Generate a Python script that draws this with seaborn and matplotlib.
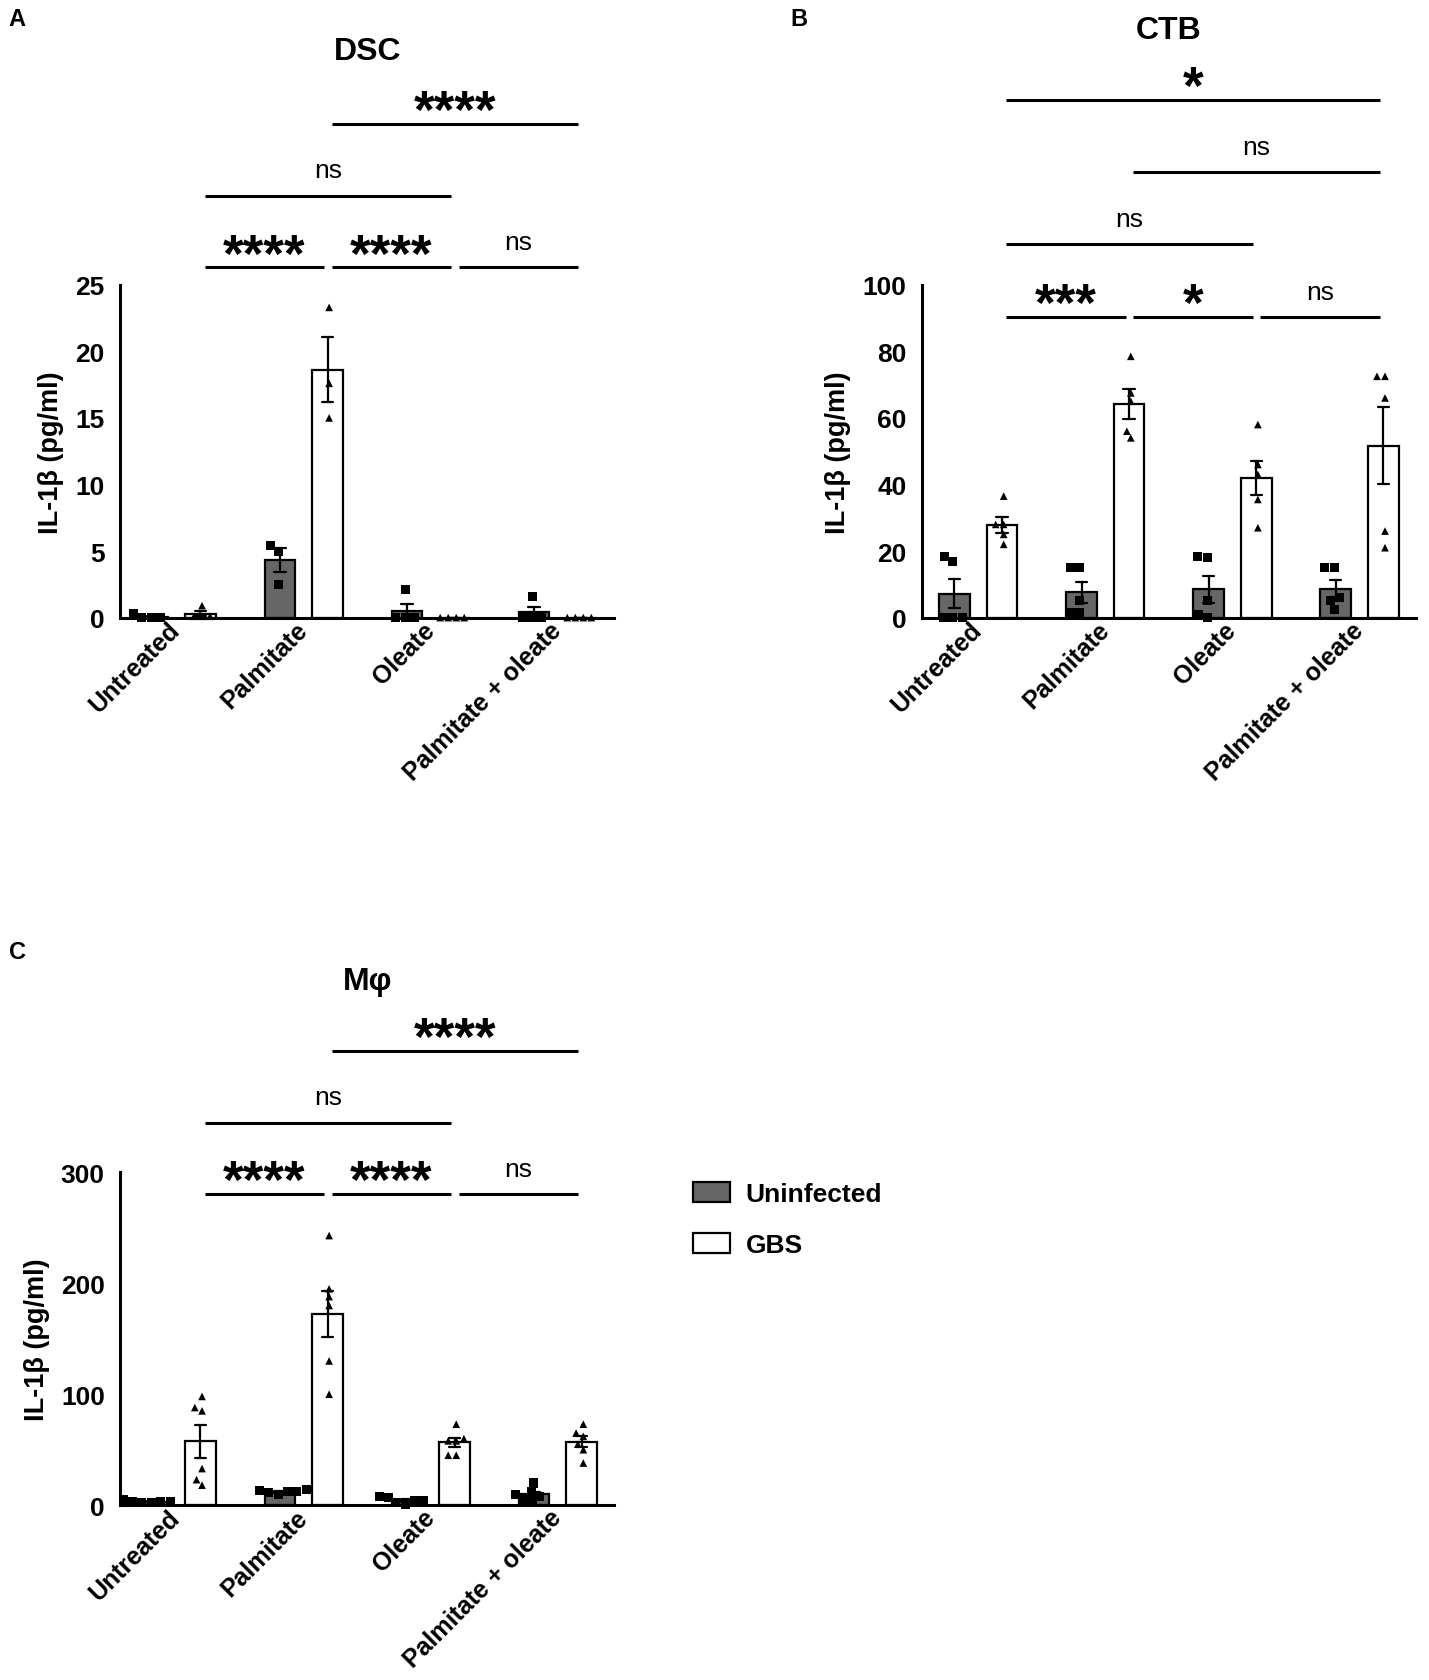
import numpy as np
import pandas as pd
import matplotlib
matplotlib.use("Agg")
import matplotlib.pyplot as plt
import seaborn as sns
from matplotlib.patches import Patch

sns.set_theme(style="white")
plt.rcParams["font.family"] = ["Liberation Sans", "DejaVu Sans"]
plt.rcParams["text.color"] = "black"
plt.rcParams["axes.labelcolor"] = "black"
plt.rcParams["xtick.color"] = "black"
plt.rcParams["ytick.color"] = "black"

# --- data (IL-1b, pg/ml) ---
treatments = ["Untreated", "Palmitate", "Oleate", "Palmitate + oleate"]
infections = ["Uninfected", "GBS"]

dsc_uninfected = [[0.0, 0.3, 0.0, 0.0], [5.4, 5.0, 2.5], [2.1, 0.0, 0.0, 0.0], [1.6, 0.0, 0.0, 0.0]]
dsc_gbs = [[0.9, 0.1, 0.1, 0.1], [23.3, 17.6, 15.0], [0.0, 0.0, 0.0, 0.0], [0.0, 0.0, 0.0, 0.0]]

ctb_uninfected = [[18.5, 17.0, 0.0, 0.0, 0.0], [15.0, 15.0, 5.0, 1.5, 1.5],
                  [18.5, 18.0, 5.0, 1.0, 0.0], [15.0, 15.0, 6.0, 5.0, 2.5]]
ctb_gbs = [[36.5, 28.0, 28.0, 25.0, 22.0], [78.5, 67.5, 65.0, 56.0, 54.0],
           [58.0, 46.0, 43.0, 35.5, 27.0], [72.5, 72.5, 66.0, 26.0, 21.0]]

mac_uninfected = [[3, 5, 3, 2, 2, 3], [10, 13, 12, 14, 11, 12],
                  [8, 4, 2, 7, 1, 4], [20, 12, 10, 8, 5, 3]]
mac_gbs = [[98, 88, 85, 33, 23, 18], [243, 195, 188, 180, 130, 100],
           [73, 60, 58, 58, 45, 45], [73, 65, 62, 55, 50, 38]]

# comparisons between GBS groups: (from, to, row, label)
dsc_sig = [(0, 1, 0, "****"), (1, 2, 0, "****"), (2, 3, 0, "ns"), (0, 2, 1, "ns"), (1, 3, 2, "****")]
ctb_sig = [(0, 1, 0, "***"), (1, 2, 0, "*"), (2, 3, 0, "ns"), (0, 2, 1, "ns"), (1, 3, 2, "ns"), (0, 3, 3, "*")]
mac_sig = [(0, 1, 0, "****"), (1, 2, 0, "****"), (2, 3, 0, "ns"), (0, 2, 1, "ns"), (1, 3, 2, "****")]

bar_colors = {"Uninfected": "#666666", "GBS": "white"}
point_colors = {"Uninfected": "black", "GBS": "black"}


def to_long(uninf, gbs):
    rows = []
    for inf, groups in zip(infections, [uninf, gbs]):
        for t, vals in zip(treatments, groups):
            for v in vals:
                rows.append((t, inf, v))
    return pd.DataFrame(rows, columns=["treatment", "infection", "il1b"])


def draw_panel(ax, df, yticks, title, title_y, row_y, sig):
    sns.barplot(data=df, x="treatment", y="il1b", hue="infection", order=treatments,
                hue_order=infections, palette=bar_colors, edgecolor="black", linewidth=1.6,
                width=0.75, gap=0.36, errorbar="se", capsize=0.18,
                err_kws={"color": "black", "linewidth": 1.6}, legend=False, ax=ax)
    for inf, mk, sz in [("Uninfected", "s", 6.5), ("GBS", "^", 5.5)]:
        sns.swarmplot(data=df[df.infection == inf], x="treatment", y="il1b", hue="infection",
                      order=treatments, hue_order=infections, dodge=True,
                      palette=point_colors, marker=mk, size=sz, linewidth=0,
                      legend=False, ax=ax, warn_thresh=1)
    for c in ax.collections:
        c.set_clip_on(False)

    ax.set_xlim(-0.445, 3.445)
    ax.set_ylim(0, yticks[-1])
    ax.set_yticks(yticks)
    ax.set_xlabel("")
    ax.set_ylabel("IL-1β (pg/ml)", fontsize=19.5, fontweight="bold", labelpad=8)
    sns.despine(ax=ax)
    for s in ["left", "bottom"]:
        ax.spines[s].set_linewidth(2.2)
        ax.spines[s].set_color("black")
    ax.tick_params(axis="y", length=8, width=2.2, labelsize=19, colors="black", pad=3)
    ax.tick_params(axis="x", length=0, labelsize=18, pad=6)
    for lab in ax.get_yticklabels():
        lab.set_fontweight("bold")
    for lab in ax.get_xticklabels():
        lab.set_fontweight("bold")
        lab.set_rotation(45)
        lab.set_ha("right")
        lab.set_va("center")
        lab.set_rotation_mode("anchor")

    trans = ax.get_xaxis_transform()
    for i, j, r, label in sig:
        y = row_y[r]
        x1 = i + 0.19 + 0.03
        x2 = j + 0.19 - 0.03
        ax.plot([x1, x2], [y, y], color="black", lw=2.2, transform=trans,
                clip_on=False, solid_capstyle="butt")
        xm = (x1 + x2) / 2
        if label == "ns":
            ax.text(xm, y + 0.055, label, transform=trans, ha="center", va="baseline",
                    fontsize=19)
        else:
            ax.text(xm, y - 0.01, label, transform=trans, ha="center", va="baseline",
                    fontsize=38, fontweight="bold")
    ax.text(1.5, title_y, title, transform=trans, ha="center", va="center",
            fontsize=23, fontweight="bold")


fig = plt.figure(figsize=(14.29, 16.81), dpi=100)
ax_a = fig.add_axes([0.084, 0.632, 0.346, 0.198])
ax_b = fig.add_axes([0.645, 0.632, 0.346, 0.198])
ax_c = fig.add_axes([0.084, 0.104, 0.346, 0.198])

draw_panel(ax_a, to_long(dsc_uninfected, dsc_gbs), [0, 5, 10, 15, 20, 25], "DSC", 1.703,
           [1.052, 1.268, 1.484], dsc_sig)
draw_panel(ax_b, to_long(ctb_uninfected, ctb_gbs), [0, 20, 40, 60, 80, 100], "CTB", 1.765,
           [0.903, 1.123, 1.339, 1.555], ctb_sig)
draw_panel(ax_c, to_long(mac_uninfected, mac_gbs), [0, 100, 200, 300], "Mφ", 1.576,
           [0.935, 1.149, 1.366], mac_sig)

fig.text(0.006, 0.995, "A", fontsize=17, fontweight="bold", va="top")
fig.text(0.553, 0.995, "B", fontsize=17, fontweight="bold", va="top")
fig.text(0.006, 0.440, "C", fontsize=17, fontweight="bold", va="top")

handles = [Patch(facecolor=bar_colors[k], edgecolor="black", linewidth=1.6, label=k) for k in infections]
fig.legend(handles=handles, loc="upper left", bbox_to_anchor=(0.4755, 0.304), frameon=False,
           prop={"size": 19, "weight": "bold"}, handlelength=1.4, handleheight=0.8,
           labelspacing=1.0, handletextpad=0.6, borderpad=0)

fig.savefig("out.png", dpi=100)
